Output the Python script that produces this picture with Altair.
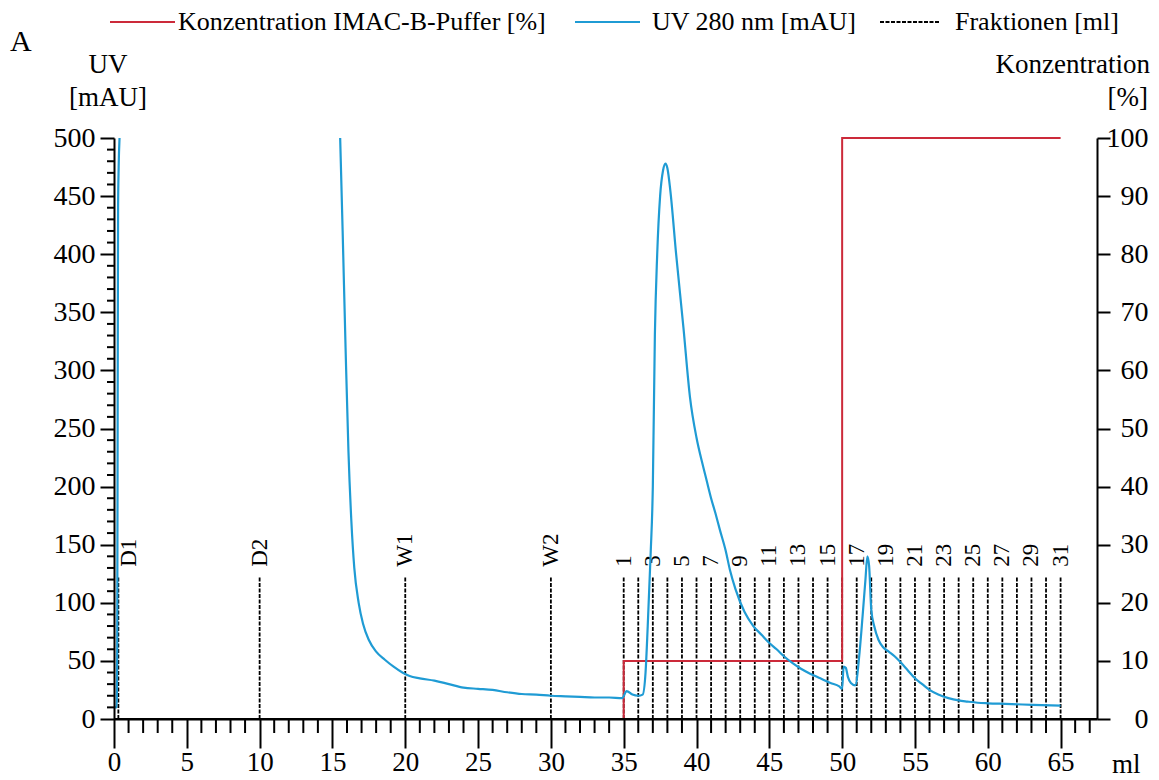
import altair as alt
import pandas as pd

FONT = "Liberation Serif"
BLUE = "#1f9bd4"
RED = "#cc2a3a"

# ---------------- data ----------------
# UV 280 nm trace, visible segment 1 (injection spike) and segment 2
uv_ml_1 = [0.0, 0.18, 0.22, 0.25, 0.28, 0.32, 0.38]
uv_mau_1 = [10, 10, 60, 250, 440, 475, 500]

uv_ml_2 = [15.53, 15.7, 15.9, 16.1, 16.3, 16.5, 16.8, 17.1, 17.5, 18.0,
           18.6, 19.2, 19.8, 20.3, 21.0, 22.0, 23.0, 24.0, 25.0, 26.0,
           27.0, 28.0, 29.0, 30.0, 31.0, 32.0, 33.0, 34.0, 34.9, 35.2,
           35.6, 36.0, 36.3, 36.5, 36.65, 36.85, 37.0, 37.14, 37.3, 37.5,
           37.7, 37.87, 38.0, 38.2, 38.6, 39.1, 39.55, 40.0, 40.4, 40.7,
           41.0, 41.3, 41.6, 42.0, 42.3, 42.67, 43.3, 43.9, 44.5, 44.95,
           45.5, 46.0, 46.6, 47.2, 47.8, 48.5, 49.2, 49.8, 50.0, 50.1,
           50.25, 50.4, 50.6, 50.9, 51.2, 51.4, 51.6, 51.73, 51.85, 52.0,
           52.2, 52.5, 52.8, 53.2, 53.6, 54.0, 54.5, 55.0, 55.5, 56.0,
           56.6, 57.3, 58.0, 58.6, 59.3, 60.0, 61.2, 62.4, 63.7, 65.0]
uv_mau_2 = [500, 420, 320, 230, 170, 130, 100, 82, 68, 58,
            51, 45, 40, 37, 35, 33, 30, 27, 26, 25,
            23, 21.5, 21, 20, 19.5, 19, 18.5, 18.5, 18, 24,
            21, 20, 21, 40, 80, 142, 200, 330, 400, 450,
            472, 478, 474, 455, 400, 337, 277, 242, 220, 205,
            190, 177, 163, 145, 128, 112, 92, 80, 72, 66,
            60, 54, 48, 43, 39, 35, 31, 28, 26, 45,
            44, 36, 31, 29, 58, 88, 120, 140, 132, 94,
            80, 68, 62, 58, 54, 49, 42, 35, 30, 25,
            21, 18, 16, 15, 14, 13.5, 13, 12.5, 12, 11.5]

# Concentration IMAC-B buffer [%]
conc_ml = [0, 35, 35, 50, 50, 65]
conc_pct = [0, 0, 10, 10, 100, 100]

# Fractions [ml]
frac_ml = [0.3, 10, 20, 30,
           35, 36, 37, 38, 39, 40, 41, 42, 43, 44, 45, 46, 47, 48, 49, 50,
           51, 52, 53, 54, 55, 56, 57, 58, 59, 60, 61, 62, 63, 64, 65]
frac_label = ["D1", "D2", "W1", "W2",
              "1", "", "3", "", "5", "", "7", "", "9", "", "11", "", "13", "", "15", "",
              "17", "", "19", "", "21", "", "23", "", "25", "", "27", "", "29", "", "31"]

# axis ticks
x_major = list(range(0, 66, 5))
x_minor = [v for v in range(0, 68) if v % 5 != 0]
yl_major = list(range(0, 501, 50))
yl_minor = [v for v in range(0, 501, 10) if v % 50 != 0]
yr_major = list(range(0, 101, 10))

uv_df = pd.DataFrame({
    "ml": uv_ml_1 + uv_ml_2,
    "mAU": uv_mau_1 + uv_mau_2,
    "seg": ["a"] * len(uv_ml_1) + ["b"] * len(uv_ml_2),
})
conc_df = pd.DataFrame({"ml": conc_ml, "pct": conc_pct, "i": list(range(len(conc_ml)))})
frac_df = pd.DataFrame({"ml": frac_ml, "label": frac_label})
xminor_df = pd.DataFrame({"ml": x_minor})
yminor_df = pd.DataFrame({"mAU": yl_minor})

W, H = 983, 581

# ---------------- scales & axes ----------------
xscale = alt.Scale(domain=[0, 67.5], nice=False, zero=False)
yl_scale = alt.Scale(domain=[0, 500], nice=False)
yr_scale = alt.Scale(domain=[0, 100], nice=False)

common = dict(labelFont=FONT, labelColor="black", tickColor="black", tickWidth=2,
              domainColor="black", domainWidth=2, grid=False, title=None,
              labelOverlap=False, labelFlush=False, zindex=1)

xaxis = alt.Axis(values=x_major, tickSize=29, labelFontSize=27, labelPadding=1, **common)
yl_axis = alt.Axis(orient="left", values=yl_major, tickSize=14, labelFontSize=28,
                   labelPadding=5, **common)
yr_axis = alt.Axis(orient="right", values=yr_major, tickSize=13, labelAlign="right",
                   labelPadding=38, labelFontSize=28, **common)

X = alt.X("ml:Q", scale=xscale, axis=xaxis)

# ---------------- layers ----------------
frac_rules = alt.Chart(frac_df).mark_rule(
    color="black", strokeWidth=1.8, strokeDash=[4, 1.5]
).encode(
    x=X,
    y=alt.YDatum(0, scale=yr_scale, axis=yr_axis),
    y2=alt.Y2Datum(24.6),
)

frac_text = alt.Chart(frac_df).transform_filter(
    "datum.label != '' && datum.label != 'D1'"
).mark_text(angle=270, align="left", baseline="middle", font=FONT, fontSize=23,
            color="black").encode(
    x=X,
    y=alt.YDatum(26.2, scale=yr_scale, axis=yr_axis),
    text="label:N",
)

frac_text_d1 = alt.Chart(frac_df).transform_filter(
    "datum.label == 'D1'"
).mark_text(angle=270, align="left", baseline="middle", font=FONT, fontSize=23,
            color="black", dy=11).encode(
    x=X,
    y=alt.YDatum(26.2, scale=yr_scale, axis=yr_axis),
    text="label:N",
)

conc_line = alt.Chart(conc_df).mark_line(color=RED, strokeWidth=2).encode(
    x=X,
    y=alt.Y("pct:Q", scale=yr_scale, axis=yr_axis),
    order="i:Q",
)

right_layer = alt.layer(frac_rules, frac_text, frac_text_d1, conc_line)

uv_line = alt.Chart(uv_df).mark_line(color=BLUE, strokeWidth=2.2, interpolate="monotone").encode(
    x=X,
    y=alt.Y("mAU:Q", scale=yl_scale, axis=yl_axis),
    detail="seg:N",
)

yminor = alt.Chart(yminor_df).mark_rule(color="black", strokeWidth=2).encode(
    y=alt.Y("mAU:Q", scale=yl_scale, axis=yl_axis),
    x=alt.value(0), x2=alt.value(-7),
)

left_layer = alt.layer(uv_line, yminor)

xminor = alt.Chart(xminor_df).mark_rule(color="black", strokeWidth=2).encode(
    x=X,
    y=alt.value(H), y2=alt.value(H + 14),
)

one = pd.DataFrame({"a": [0]})


def txt(s, x, y, size=27, align="left"):
    return alt.Chart(one).mark_text(
        font=FONT, fontSize=size, align=align, baseline="middle", color="black"
    ).encode(x=alt.value(x), y=alt.value(y), text=alt.value(s))


def seg(x1, x2, y, color, dash=None, width=2):
    kw = dict(color=color, strokeWidth=width)
    if dash:
        kw["strokeDash"] = dash
    return alt.Chart(one).mark_rule(**kw).encode(x=alt.value(x1), x2=alt.value(x2), y=alt.value(y))


# black baseline drawn over the 0 % part of the concentration line (axis line)
baseline_rule = seg(0, W, H, "black", width=2)

annotations = [
    seg(-4, 61, -116, RED),
    txt("Konzentration IMAC-B-Puffer [%]", 64, -116, size=26),
    seg(461, 526, -116, BLUE),
    txt("UV 280 nm [mAU]", 538, -116, size=26),
    seg(766, 826, -116, "black", [4, 1.5]),
    txt("Fraktionen [ml]", 841, -116, size=26),
    txt("A", -104, -96, size=30),
    txt("UV", -6, -73, align="center"),
    txt("[mAU]", -6, -40, align="center"),
    txt("Konzentration", 1036, -73, align="right"),
    txt("[%]", 1034, -40, align="right"),
    txt("ml", 998, 627),
]

chart = alt.layer(right_layer, left_layer, xminor, baseline_rule, *annotations).resolve_scale(
    y="independent"
).properties(
    width=W, height=H,
    padding={"left": 106, "top": 130, "right": 54, "bottom": 60},
    autosize=alt.AutoSizeParams(type="none"),
).configure_view(stroke=None)

chart.save("out.html", embed_options={"renderer": "svg", "actions": False})
